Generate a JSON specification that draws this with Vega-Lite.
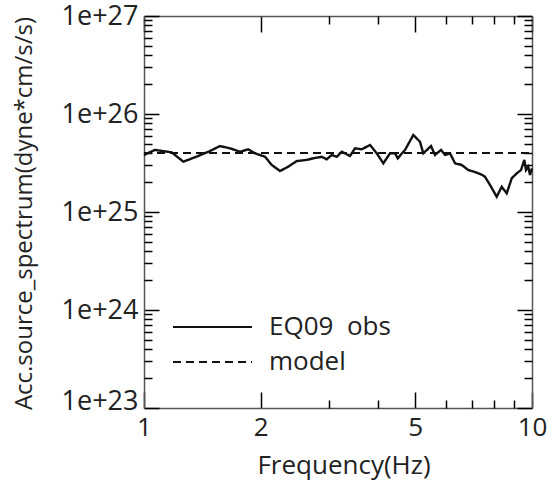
{
  "$schema": "https://vega.github.io/schema/vega-lite/v6.json",
  "width": 388,
  "height": 392,
  "autosize": "none",
  "padding": {"left": 144, "top": 16, "right": 25, "bottom": 73},
  "background": "white",
  "config": {"font": "Open Sans", "view": {"stroke": null}},
  "data": {
    "values": [
      {"f": 1.000, "acc": 3.82e25, "series": "EQ09  obs"},
      {"f": 1.067, "acc": 4.30e25, "series": "EQ09  obs"},
      {"f": 1.179, "acc": 4.06e25, "series": "EQ09  obs"},
      {"f": 1.263, "acc": 3.26e25, "series": "EQ09  obs"},
      {"f": 1.380, "acc": 3.73e25, "series": "EQ09  obs"},
      {"f": 1.479, "acc": 4.19e25, "series": "EQ09  obs"},
      {"f": 1.570, "acc": 4.71e25, "series": "EQ09  obs"},
      {"f": 1.665, "acc": 4.47e25, "series": "EQ09  obs"},
      {"f": 1.768, "acc": 4.12e25, "series": "EQ09  obs"},
      {"f": 1.857, "acc": 4.36e25, "series": "EQ09  obs"},
      {"f": 1.932, "acc": 3.97e25, "series": "EQ09  obs"},
      {"f": 2.051, "acc": 3.66e25, "series": "EQ09  obs"},
      {"f": 2.134, "acc": 3.02e25, "series": "EQ09  obs"},
      {"f": 2.242, "acc": 2.62e25, "series": "EQ09  obs"},
      {"f": 2.354, "acc": 2.90e25, "series": "EQ09  obs"},
      {"f": 2.475, "acc": 3.31e25, "series": "EQ09  obs"},
      {"f": 2.627, "acc": 3.40e25, "series": "EQ09  obs"},
      {"f": 2.732, "acc": 3.53e25, "series": "EQ09  obs"},
      {"f": 2.871, "acc": 3.66e25, "series": "EQ09  obs"},
      {"f": 2.957, "acc": 3.45e25, "series": "EQ09  obs"},
      {"f": 3.046, "acc": 3.82e25, "series": "EQ09  obs"},
      {"f": 3.139, "acc": 3.66e25, "series": "EQ09  obs"},
      {"f": 3.233, "acc": 4.12e25, "series": "EQ09  obs"},
      {"f": 3.396, "acc": 3.73e25, "series": "EQ09  obs"},
      {"f": 3.499, "acc": 4.47e25, "series": "EQ09  obs"},
      {"f": 3.640, "acc": 4.36e25, "series": "EQ09  obs"},
      {"f": 3.824, "acc": 4.83e25, "series": "EQ09  obs"},
      {"f": 3.979, "acc": 3.97e25, "series": "EQ09  obs"},
      {"f": 4.139, "acc": 3.14e25, "series": "EQ09  obs"},
      {"f": 4.306, "acc": 3.97e25, "series": "EQ09  obs"},
      {"f": 4.436, "acc": 3.97e25, "series": "EQ09  obs"},
      {"f": 4.507, "acc": 3.53e25, "series": "EQ09  obs"},
      {"f": 4.707, "acc": 4.30e25, "series": "EQ09  obs"},
      {"f": 4.944, "acc": 6.11e25, "series": "EQ09  obs"},
      {"f": 5.144, "acc": 5.21e25, "series": "EQ09  obs"},
      {"f": 5.246, "acc": 3.97e25, "series": "EQ09  obs"},
      {"f": 5.491, "acc": 4.71e25, "series": "EQ09  obs"},
      {"f": 5.623, "acc": 3.82e25, "series": "EQ09  obs"},
      {"f": 5.830, "acc": 4.30e25, "series": "EQ09  obs"},
      {"f": 5.969, "acc": 3.82e25, "series": "EQ09  obs"},
      {"f": 6.148, "acc": 3.97e25, "series": "EQ09  obs"},
      {"f": 6.333, "acc": 3.14e25, "series": "EQ09  obs"},
      {"f": 6.589, "acc": 3.02e25, "series": "EQ09  obs"},
      {"f": 6.852, "acc": 2.68e25, "series": "EQ09  obs"},
      {"f": 7.050, "acc": 2.60e25, "series": "EQ09  obs"},
      {"f": 7.271, "acc": 2.48e25, "series": "EQ09  obs"},
      {"f": 7.420, "acc": 2.40e25, "series": "EQ09  obs"},
      {"f": 7.564, "acc": 2.29e25, "series": "EQ09  obs"},
      {"f": 7.793, "acc": 1.89e25, "series": "EQ09  obs"},
      {"f": 8.110, "acc": 1.43e25, "series": "EQ09  obs"},
      {"f": 8.355, "acc": 1.81e25, "series": "EQ09  obs"},
      {"f": 8.606, "acc": 1.55e25, "series": "EQ09  obs"},
      {"f": 8.867, "acc": 2.21e25, "series": "EQ09  obs"},
      {"f": 9.133, "acc": 2.48e25, "series": "EQ09  obs"},
      {"f": 9.368, "acc": 2.68e25, "series": "EQ09  obs"},
      {"f": 9.554, "acc": 3.40e25, "series": "EQ09  obs"},
      {"f": 9.650, "acc": 2.68e25, "series": "EQ09  obs"},
      {"f": 9.783, "acc": 2.90e25, "series": "EQ09  obs"},
      {"f": 9.881, "acc": 2.39e25, "series": "EQ09  obs"},
      {"f": 10.0, "acc": 2.79e25, "series": "EQ09  obs"},
      {"f": 1.0, "acc": 4.0e25, "series": "model"},
      {"f": 10.0, "acc": 4.0e25, "series": "model"}
    ]
  },
  "resolve": {"axis": {"x": "independent", "y": "independent"}},
  "layer": [
    {
      "transform": [{"filter": "datum.series === 'EQ09  obs'"}],
      "mark": {"type": "line", "color": "#111", "strokeWidth": 2.4},
      "encoding": {
        "x": {"field": "f", "type": "quantitative",
          "scale": {"type": "log", "domain": [1, 10], "nice": false},
          "axis": {"orient": "bottom", "gridOpacity": 0, "title": "Frequency(Hz)", "titleFontSize": 26,
            "titleFont": "Open Sans", "titleFontWeight": "normal", "titleColor": "#222",
            "titleX": 199.5, "titleY": 65, "titleAlign": "center", "titleBaseline": "alphabetic",
            "values": [1, 2, 5, 10], "labelFlush": false, "labelOverlap": false,
            "labelFont": "Open Sans", "labelColor": "#222", "labelFontSize": 26, "labelPadding": 22, "labelBaseline": "top",
            "domainColor": "#555", "domainWidth": 1.5,
            "tickSize": -16, "tickColor": "black", "tickWidth": 1.5}},
        "y": {"field": "acc", "type": "quantitative",
          "scale": {"type": "log", "domain": [1e23, 1e27], "nice": false},
          "axis": {"orient": "left", "gridOpacity": 0, "title": "Acc.source_spectrum(dyne*cm/s/s)", "titleFontSize": 24,
            "titleFont": "Open Sans", "titleFontWeight": "normal", "titleColor": "#222",
            "titleAngle": -90, "titleX": -113, "titleY": 197, "titleAlign": "center", "titleBaseline": "alphabetic",
            "values": [1e23, 1e24, 1e25, 1e26, 1e27], "labelFlush": false, "labelOverlap": false,
            "labelExpr": "format(datum.value, '.0e')",
            "labelOffset": {"condition": {"test": "datum.value < 2e23", "value": -7}, "value": 0},
            "labelFont": "Open Sans", "labelColor": "#222", "labelFontSize": 27, "labelPadding": 21,
            "domainColor": "#555", "domainWidth": 1.5,
            "tickSize": -15, "tickColor": "black", "tickWidth": 1.5}},
        "strokeDash": {"field": "series", "type": "nominal",
          "scale": {"domain": ["EQ09  obs", "model"], "range": [[1, 0], [8, 5]]},
          "legend": {"orient": "none", "legendX": 28, "legendY": 296, "title": null, "symbolType": "stroke",
            "symbolSize": 6241, "symbolStrokeWidth": 2, "symbolStrokeColor": "#111", "labelFontSize": 26,
            "labelExpr": "datum.label === 'model' ? 'model' : 'EQ09\u00a0\u00a0obs'",
            "labelFont": "Open Sans", "labelColor": "#222", "labelOffset": 16, "clipHeight": 30, "rowPadding": 5}}
      }
    },
    {
      "transform": [{"filter": "datum.series === 'model'"}],
      "mark": {"type": "line", "color": "#111", "strokeWidth": 2, "strokeDash": [8, 5]},
      "encoding": {
        "x": {"field": "f", "type": "quantitative",
          "scale": {"type": "log", "domain": [1, 10], "nice": false},
          "axis": {"orient": "top", "gridOpacity": 0, "title": null, "labels": false, "values": [1, 2, 5, 10],
            "domainColor": "#555", "domainWidth": 1.5,
            "tickSize": -16, "tickColor": "black", "tickWidth": 1.5}},
        "y": {"field": "acc", "type": "quantitative",
          "scale": {"type": "log", "domain": [1e23, 1e27], "nice": false},
          "axis": {"orient": "right", "gridOpacity": 0, "title": null, "labels": false, "values": [1e23, 1e24, 1e25, 1e26, 1e27],
            "domainColor": "#555", "domainWidth": 1.5,
            "tickSize": -15, "tickColor": "black", "tickWidth": 1.5}}
      }
    },
    {
      "transform": [{"filter": "datum.series === 'model'"}],
      "mark": {"type": "line", "color": "#111", "opacity": 0},
      "encoding": {
        "x": {"field": "f", "type": "quantitative",
          "scale": {"type": "log", "domain": [1, 10], "nice": false},
          "axis": {"orient": "bottom", "gridOpacity": 0, "title": null, "labels": false, "domain": false, "values": [3, 4, 6, 7, 8, 9],
            "tickSize": -8, "tickColor": "black", "tickWidth": 1.5}},
        "y": {"field": "acc", "type": "quantitative",
          "scale": {"type": "log", "domain": [1e23, 1e27], "nice": false},
          "axis": {"orient": "left", "gridOpacity": 0, "title": null, "labels": false, "domain": false,
            "values": [2e23, 3e23, 4e23, 5e23, 6e23, 7e23, 8e23, 9e23, 2e24, 3e24, 4e24, 5e24, 6e24, 7e24, 8e24, 9e24, 2e25, 3e25, 4e25, 5e25, 6e25, 7e25, 8e25, 9e25, 2e26, 3e26, 4e26, 5e26, 6e26, 7e26, 8e26, 9e26],
            "tickSize": -8, "tickColor": "black", "tickWidth": 1.5}}
      }
    },
    {
      "transform": [{"filter": "datum.series === 'model'"}],
      "mark": {"type": "line", "color": "#111", "opacity": 0},
      "encoding": {
        "x": {"field": "f", "type": "quantitative",
          "scale": {"type": "log", "domain": [1, 10], "nice": false},
          "axis": {"orient": "top", "gridOpacity": 0, "title": null, "labels": false, "domain": false, "values": [3, 4, 6, 7, 8, 9],
            "tickSize": -8, "tickColor": "black", "tickWidth": 1.5}},
        "y": {"field": "acc", "type": "quantitative",
          "scale": {"type": "log", "domain": [1e23, 1e27], "nice": false},
          "axis": {"orient": "right", "gridOpacity": 0, "title": null, "labels": false, "domain": false,
            "values": [2e23, 3e23, 4e23, 5e23, 6e23, 7e23, 8e23, 9e23, 2e24, 3e24, 4e24, 5e24, 6e24, 7e24, 8e24, 9e24, 2e25, 3e25, 4e25, 5e25, 6e25, 7e25, 8e25, 9e25, 2e26, 3e26, 4e26, 5e26, 6e26, 7e26, 8e26, 9e26],
            "tickSize": -8, "tickColor": "black", "tickWidth": 1.5}}
      }
    }
  ]
}
